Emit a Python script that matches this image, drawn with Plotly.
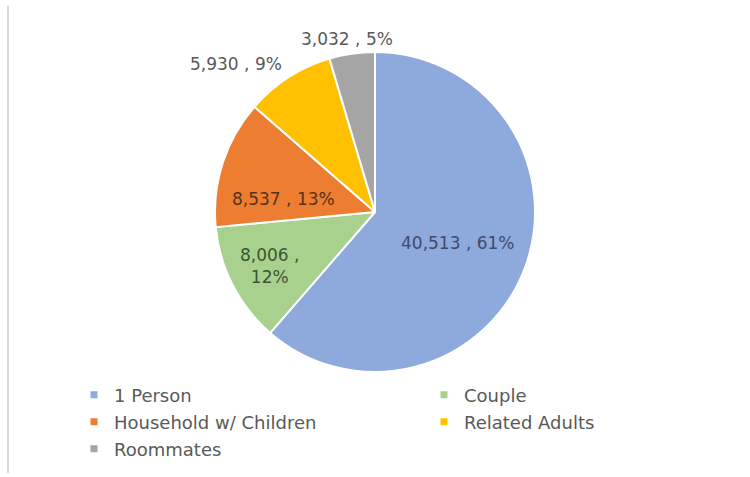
import math
import plotly.graph_objects as go

# Household composition counts
categories = ["1 Person", "Couple", "Household w/ Children", "Related Adults", "Roommates"]
households = [40513, 8006, 8537, 5930, 3032]

slice_colors = ["#8EA9DB", "#A9D18E", "#ED7D31", "#FFC000", "#A5A5A5"]

# Data-label styling: text colour, radial position (fraction of radius),
# anchor, pixel nudges and line break
label_colors = ["#3F4B6A", "#3C5530", "#5A3218", "#595959", "#595959"]
label_radius = [0.55, 0.74, 0.60, 1.10, 1.08]
label_xanchor = ["center", "center", "center", "right", "center"]
label_shift = [(0, 0), (0, 0), (0, -16), (4, 0), (-3, 2)]
label_break = [False, True, False, False, False]

# Legend grid: column and row of each entry (pixels)
legend_col_x = [74, 424]
legend_row_y = [395, 422, 449]
legend_cells = [(0, 0), (1, 0), (0, 1), (1, 1), (0, 2)]

W, H = 750, 477
FONT = "DejaVu Sans"

# Pie placement (pixels; margins are zero so paper == figure)
CX, CY, R = 375, 212, 160

fig = go.Figure()

fig.add_trace(go.Pie(
    labels=categories,
    values=households,
    sort=False,
    direction="clockwise",
    rotation=0,
    marker=dict(colors=slice_colors, line=dict(color="white", width=2)),
    textinfo="none",
    showlegend=False,
    hoverinfo="label+value+percent",
    domain=dict(x=[(CX - R) / W, (CX + R) / W], y=[(H - CY - R) / H, (H - CY + R) / H]),
))

# Value / share labels placed at each slice's mid-angle
total = sum(households)
cum = 0
annotations = []
for i, v in enumerate(households):
    mid = (cum + v / 2) / total
    cum += v
    theta = 2 * math.pi * mid
    px = CX + label_radius[i] * R * math.sin(theta)
    py = CY - label_radius[i] * R * math.cos(theta)
    pct = round(100 * v / total)
    sep = " ,<br>" if label_break[i] else " , "
    annotations.append(dict(
        x=px / W, y=1 - py / H, xref="paper", yref="paper",
        text=f"{v:,}{sep}{pct}%",
        showarrow=False,
        xanchor=label_xanchor[i], yanchor="middle",
        xshift=label_shift[i][0], yshift=label_shift[i][1],
        font=dict(family=FONT, size=17, color=label_colors[i]),
        align="center",
    ))

# Legend swatches, each entry in its own legend box laid out on a grid
legend_layout = {}
for i, (name, color) in enumerate(zip(categories, slice_colors)):
    lid = "legend" if i == 0 else f"legend{i + 1}"
    fig.add_trace(go.Scatter(
        x=[None], y=[None], mode="markers", name=name,
        marker=dict(symbol="square", size=7, color=color),
        showlegend=True, legend=lid,
    ))
    col, row = legend_cells[i]
    legend_layout[lid] = dict(
        orientation="h",
        x=legend_col_x[col] / W, xanchor="left",
        y=1 - legend_row_y[row] / H, yanchor="middle",
        font=dict(family=FONT, size=18, color="#595959"),
        itemsizing="trace",
        bgcolor="rgba(0,0,0,0)",
    )

fig.update_layout(
    width=W, height=H,
    margin=dict(l=0, r=0, t=0, b=0),
    paper_bgcolor="white",
    plot_bgcolor="white",
    font=dict(family=FONT, color="#595959"),
    xaxis=dict(visible=False),
    yaxis=dict(visible=False),
    annotations=annotations,
    shapes=[dict(
        type="line", xref="paper", yref="paper",
        x0=8 / W, x1=8 / W, y0=4 / H, y1=(H - 6) / H,
        line=dict(color="#D9D9D9", width=2),
    )],
    **legend_layout,
)

fig.write_html("out.html")
